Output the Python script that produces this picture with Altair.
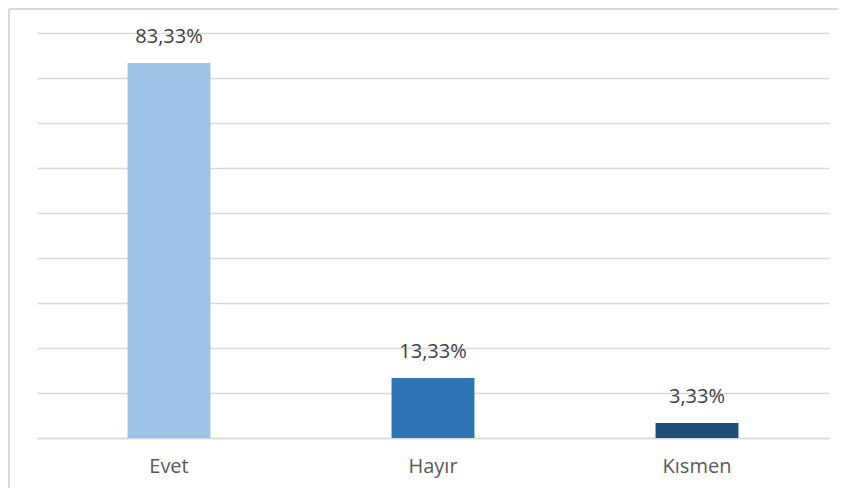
import altair as alt
import pandas as pd

categories = ["Evet", "Hayır", "Kısmen"]
values = [0.8333, 0.1333, 0.0333]
labels = ["83,33%", "13,33%", "3,33%"]
colors = ["#9DC3E6", "#2E75B6", "#1F4E79"]

df = pd.DataFrame({"cat": categories, "val": values, "label": labels})

FONT = "Open Sans"

x = alt.X("cat:N", sort=categories, title=None,
          scale=alt.Scale(paddingInner=0.686, paddingOuter=0.343),
          axis=alt.Axis(labelAngle=0, labelFontSize=20, labelColor="#595959", labelFont=FONT,
                        labelPadding=18, ticks=False, domainColor="#d9d9d9", domainWidth=1.5))
y = alt.Y("val:Q", title=None,
          scale=alt.Scale(domain=[0, 0.9], nice=False),
          axis=alt.Axis(values=[i / 10 for i in range(10)], labels=False, ticks=False, domain=False,
                        gridColor="#d9d9d9", gridWidth=1.5))

border_left = alt.Chart(df).mark_rule(stroke="#d9d9d9", strokeWidth=2).encode(
    x=alt.value(-28), y=alt.value(-24), y2=alt.value(470)
)
border_top = alt.Chart(df).mark_rule(stroke="#d9d9d9", strokeWidth=2).encode(
    x=alt.value(-28), x2=alt.value(830), y=alt.value(-24)
)

bars = alt.Chart(df).mark_bar().encode(
    x=x, y=y,
    color=alt.Color("cat:N", scale=alt.Scale(domain=categories, range=colors), legend=None),
)

text = alt.Chart(df).mark_text(baseline="middle", dy=-26, fontSize=20, color="#404040", font=FONT).encode(
    x=alt.X("cat:N", sort=categories), y="val:Q", text="label:N"
)

chart = alt.layer(border_left, border_top, bars, text).properties(
    width=792, height=405,
    autosize=alt.AutoSizeParams(type="none"),
    padding={"left": 29, "top": 25, "right": 9, "bottom": 50},
).configure_view(stroke=None)

chart.save("out.html", embed_options={"renderer": "svg", "actions": False})
